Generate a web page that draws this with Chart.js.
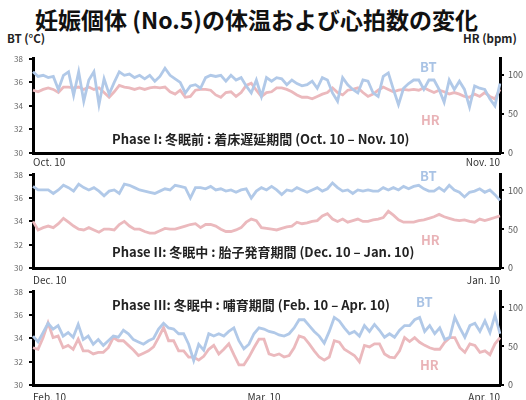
<!DOCTYPE html>
<html>
<head>
<meta charset="utf-8">
<script src="https://cdn.jsdelivr.net/npm/chart.js@4"></script>
<style>
  body { margin: 0; width: 526px; height: 400px; overflow: hidden; background: #fff; position: relative;
         font-family: 'Noto Sans CJK JP', 'Noto Sans', sans-serif; }
  canvas { position: absolute; left: 0; }
  .t { position: absolute; white-space: nowrap; line-height: 1; z-index: 2; }
  .title { left: 35px; top: 8px; font-size: 23px; font-weight: bold; color: #111; }
  .axt { font-size: 11.5px; font-weight: bold; color: #222; top: 33px; }
  .phase { font-size: 13px; font-weight: bold; color: #222; left: 112px; }
  .bt { color: #a9c3e5; font-size: 13px; font-weight: bold; }
  .hr { color: #e9b3b7; font-size: 13px; font-weight: bold; }
</style>
</head>
<body>
<div class="t title">妊娠個体 (No.5)の体温および心拍数の変化</div>
<div class="t axt" style="left:7px">BT (°C)</div>
<div class="t axt" style="left:463px">HR (bpm)</div>

<canvas id="c1" width="526" height="122" style="top:48px"></canvas>
<canvas id="c2" width="526" height="121" style="top:164px"></canvas>
<canvas id="c3" width="526" height="119" style="top:281px"></canvas>

<div class="t phase" style="top:132px">Phase I: 冬眠前 : 着床遅延期間 (Oct. 10 – Nov. 10)</div>
<div class="t phase" style="top:245px">Phase II: 冬眠中 : 胎子発育期間 (Dec. 10 – Jan. 10)</div>
<div class="t phase" style="top:298px">Phase III: 冬眠中 : 哺育期間 (Feb. 10 – Apr. 10)</div>

<div class="t bt" style="left:420px;top:60px">BT</div>
<div class="t hr" style="left:421px;top:113px">HR</div>
<div class="t bt" style="left:420px;top:169px">BT</div>
<div class="t hr" style="left:421px;top:233px">HR</div>
<div class="t bt" style="left:416px;top:295px">BT</div>
<div class="t hr" style="left:420px;top:358px">HR</div>

<script>
// Phase I : Oct. 10 - Nov. 10
const bt1 = [36.9,36.5,36.6,36.4,36.5,35.4,36.6,36.9,34.9,36.9,
  34.4,36.2,36.9,34.1,36.3,35.0,36.0,36.9,36.6,36.7,
  36.4,36.6,36.3,36.6,36.1,36.5,37.2,36.6,36.3,36.0,
  35.1,35.7,35.8,35.5,36.4,36.6,36.5,36.6,36.1,36.6,
  36.2,36.4,35.7,35.1,36.2,34.8,36.4,36.1,36.4,36.3,
  35.8,36.2,35.9,35.7,35.8,36.1,35.5,36.4,36.2,35.1,
  34.4,36.4,35.8,35.4,35.1,36.2,36.1,35.1,34.8,36.5,
  36.8,35.4,34.1,35.5,35.9,36.2,36.2,35.4,36.2,36.2,
  35.4,34.3,36.2,35.4,36.1,35.4,33.9,35.7,35.5,35.4,
  34.6,34.0,35.9];
const hr1 = [80,78,81,83,81,77,84,84,83,84,
  81,84,81,83,77,71,78,86,84,83,
  81,83,81,83,84,83,84,78,75,80,
  71,72,80,81,81,80,74,71,77,78,
  72,77,86,89,80,72,77,78,83,83,
  81,78,74,71,71,69,72,75,77,83,
  77,74,80,81,83,77,72,75,80,84,
  81,78,80,81,80,81,80,83,80,77,
  80,78,75,77,75,72,71,75,72,77,
  72,69,81];

// Phase II : Dec. 10 - Jan. 10
const bt2 = [37.0,36.7,36.7,36.7,36.4,36.7,37.1,36.9,36.6,37.2,
  36.9,36.7,36.9,36.6,36.2,36.6,36.7,36.4,37.2,37.1,
  36.9,36.7,36.6,36.5,36.4,36.6,36.8,36.7,37.1,37.0,
  36.9,36.0,36.9,36.9,36.8,37.0,36.7,36.8,36.6,36.7,
  36.5,36.7,36.8,36.0,36.6,36.9,36.7,37.0,36.7,36.3,
  36.7,36.6,36.9,36.7,36.5,36.7,36.9,36.6,36.8,37.3,
  36.9,36.6,36.7,36.4,36.7,36.6,36.7,36.6,36.6,36.9,
  36.7,36.9,36.7,37.0,36.8,37.0,37.1,36.8,36.6,36.6,
  36.9,36.6,37.1,36.7,36.5,36.1,36.5,36.6,36.8,36.5,
  36.7,36.3,35.8];
const hr2 = [60,49,52,54,52,57,64,59,54,50,
  49,52,49,46,50,50,49,56,60,54,
  50,50,47,45,45,48,51,50,50,52,
  54,56,57,52,56,56,54,50,47,47,
  49,52,59,63,61,52,51,50,49,51,
  53,54,59,57,58,60,61,67,70,63,
  60,63,59,61,63,60,60,62,63,65,
  73,68,62,59,59,59,61,62,64,66,
  69,66,64,62,61,62,60,59,63,61,
  63,65,67];

// Phase III : Feb. 10 - Apr. 10
const bt3 = [34.2,33.7,34.5,35.3,34.8,35.1,34.2,34.5,34.1,35.2,
  33.9,34.2,33.5,33.9,33.4,33.8,34.2,34.1,34.7,34.4,
  33.9,33.7,33.5,33.8,34.0,34.8,35.3,34.9,34.8,34.4,
  34.4,33.5,32.1,33.5,33.0,34.4,34.2,34.4,34.2,34.6,
  34.9,33.8,33.1,33.5,34.4,34.9,34.8,34.6,34.5,34.3,
  34.2,34.4,34.9,35.6,35.6,35.1,34.6,34.2,33.6,34.6,
  35.8,35.5,34.9,34.4,34.6,34.2,35.1,34.6,35.2,34.7,
  34.1,34.4,34.1,34.7,35.1,35.1,35.6,35.8,34.6,35.1,
  34.4,34.9,33.9,34.1,35.8,34.9,34.1,35.1,35.3,34.6,
  35.5,34.5,36.0,34.4];
const hr3 = [48,46,61,80,61,63,48,51,46,59,
  44,44,40,42,42,48,61,57,57,51,
  45,38,41,44,49,61,74,57,57,44,
  44,36,36,32,37,46,51,40,46,53,
  39,26,26,36,48,59,59,40,38,40,
  36,38,48,63,61,53,44,36,32,36,
  57,55,46,42,38,30,51,49,53,53,
  40,36,35,44,61,56,61,55,51,48,
  46,46,55,61,61,48,42,53,51,42,
  44,39,53,61];

const dates1 = ['Oct. 10', 'Nov. 10'];
const dates2 = ['Dec. 10', 'Jan. 10'];
const dates3 = ['Feb. 10', 'Mar. 10', 'Apr. 10'];
const dateIdx1 = [0, bt1.length - 1];
const dateIdx2 = [0, bt2.length - 1];
const dateIdx3 = [0, 46, bt3.length - 1];

const btTicks = [30, 32, 34, 36, 38];
const hrTicks = [0, 50, 100];

const BT_COLOR = '#b1c9e8';
const HR_COLOR = '#ebb9bd';
const FONT = "'Noto Sans CJK JP', 'Noto Sans', sans-serif";

function makePanel(id, bt, hr, dates, dateIdx, xHeight, xPad) {
  const ctx = document.getElementById(id).getContext('2d');
  return new Chart(ctx, {
    type: 'line',
    data: {
      labels: bt.map((_, i) => i),
      datasets: [
        { data: bt, yAxisID: 'y', borderColor: BT_COLOR, borderWidth: 2.8, pointRadius: 0, tension: 0 },
        { data: hr, yAxisID: 'y1', borderColor: HR_COLOR, borderWidth: 2.8, pointRadius: 0, tension: 0 },
      ],
    },
    options: {
      responsive: false,
      animation: false,
      events: [],
      layout: { padding: { top: 9, left: 0, right: 0, bottom: 0 } },
      plugins: { legend: { display: false }, tooltip: { enabled: false } },
      scales: {
        x: {
          type: 'category',
          grid: { display: false, drawTicks: false },
          border: { color: '#000', width: 3 },
          afterBuildTicks: s => { s.ticks = dateIdx.map(v => ({ value: v })); },
          afterFit: s => { s.height = xHeight; },
          ticks: {
            autoSkip: false, maxRotation: 0, align: 'inner', padding: xPad,
            color: '#333', font: { size: 10, family: FONT },
            callback: v => dates[dateIdx.indexOf(v)],
          },
        },
        y: {
          position: 'left', min: 30, max: 38,
          afterBuildTicks: s => { s.ticks = btTicks.map(v => ({ value: v })); },
          afterFit: s => { s.width = 33; },
          grid: { drawOnChartArea: false, color: '#000', lineWidth: 2, tickLength: 4 },
          border: { color: '#000', width: 3 },
          ticks: { color: '#666', padding: 6, font: { size: 8, family: FONT } },
        },
        y1: {
          position: 'right', min: 0, max: 120,
          afterBuildTicks: s => { s.ticks = hrTicks.map(v => ({ value: v })); },
          afterFit: s => { s.width = 26; },
          grid: { drawOnChartArea: false, color: '#000', lineWidth: 2, tickLength: 4 },
          border: { color: '#000', width: 3 },
          ticks: { color: '#555', padding: 4, font: { size: 9, family: FONT } },
        },
      },
    },
  });
}

makePanel('c1', bt1, hr1, dates1, dateIdx1, 17, 3);
makePanel('c2', bt2, hr2, dates2, dateIdx2, 17, 6);
makePanel('c3', bt3, hr3, dates3, dateIdx3, 15, 6);
</script>
</body>
</html>
